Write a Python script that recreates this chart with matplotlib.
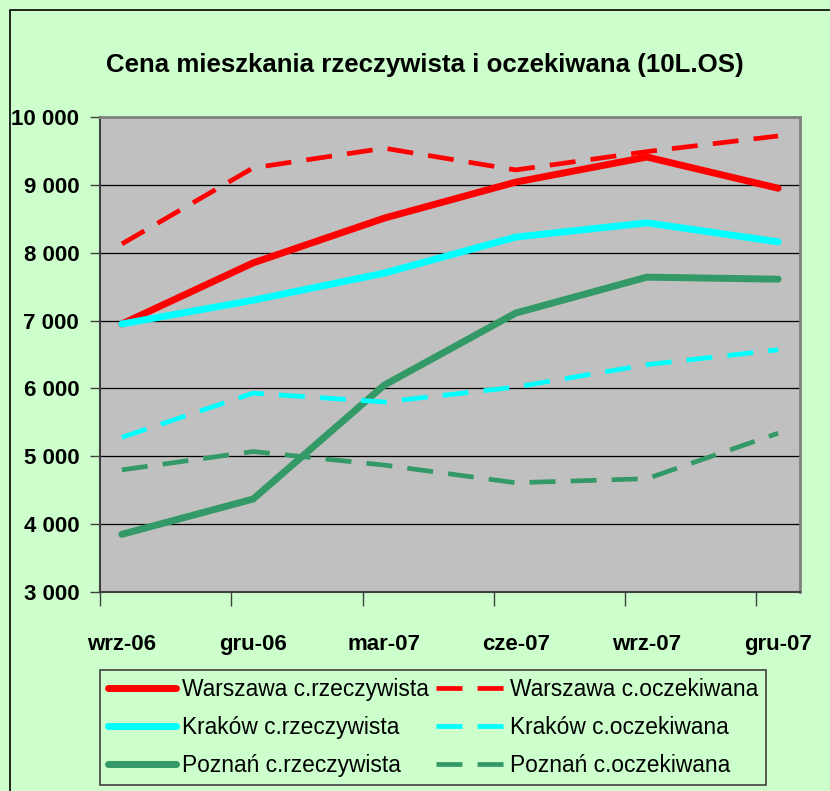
import matplotlib as mpl
import matplotlib.pyplot as plt
from matplotlib.patches import Rectangle
from matplotlib import font_manager

# month positions (0 = wrz-06), points sit mid-month
months = [0.5, 3.5, 6.5, 9.5, 12.5, 15.5]
labels = ['wrz-06', 'gru-06', 'mar-07', 'cze-07', 'wrz-07', 'gru-07']

waw_real = [6950, 7850, 8510, 9040, 9410, 8950]
waw_exp = [8130, 9250, 9540, 9220, 9490, 9720]
krk_real = [6950, 7300, 7700, 8230, 8440, 8160]
krk_exp = [5280, 5930, 5800, 6020, 6350, 6570]
poz_real = [3850, 4370, 6050, 7110, 7640, 7610]
poz_exp = [4800, 5070, 4870, 4610, 4670, 5340]

names = [f.name for f in font_manager.fontManager.ttflist]
fam = 'Liberation Sans Narrow' if 'Liberation Sans Narrow' in names else 'Liberation Sans'
plt.rcParams['font.family'] = [fam, 'DejaVu Sans']

bg = '#CCFFCC'
red = '#FF0000'
cyan = '#00FFFF'
green = '#339966'

fig = plt.figure(figsize=(8.3, 7.91), dpi=100, facecolor=bg)
ax = fig.add_axes([100/830, 1-592/791, 700/830, 475/791])
ax.set_facecolor('#C0C0C0')

# outer chart frame
fig.patches.append(Rectangle((10/830, -0.05), 1.0, 1-10/791+0.05, transform=fig.transFigure,
                             fill=False, edgecolor='black', linewidth=1.2))

h1, = ax.plot(months, waw_real, color=red, lw=5, solid_capstyle='round', solid_joinstyle='round')
h2, = ax.plot(months, krk_real, color=cyan, lw=5, solid_capstyle='round', solid_joinstyle='round')
h3, = ax.plot(months, poz_real, color=green, lw=5, solid_capstyle='round', solid_joinstyle='round')
h4, = ax.plot(months, waw_exp, color=red, lw=3.4, dashes=(5.5, 3.2))
h5, = ax.plot(months, krk_exp, color=cyan, lw=3.4, dashes=(5.5, 3.2))
h6, = ax.plot(months, poz_exp, color=green, lw=3.4, dashes=(5.5, 3.2))

ax.set_xlim(0, 16)
ax.set_ylim(3000, 10000)
ax.set_yticks(range(3000, 10001, 1000))
ax.set_yticklabels([f'{v:,}'.replace(',', ' ') for v in range(3000, 10001, 1000)],
                   fontsize=16, fontweight='bold')
ax.yaxis.grid(True, color='black', lw=0.9)
ax.set_axisbelow(True)

ax.set_xticks([0, 3, 6, 9, 12, 15])
ax.set_xticklabels([])
ax.set_xticks(months, minor=True)
ax.set_xticklabels(labels, minor=True, fontsize=16, fontweight='bold')
ax.tick_params(axis='x', which='major', length=10, width=1, color='#404040')
ax.tick_params(axis='x', which='minor', length=0, pad=30)
ax.tick_params(axis='y', length=7, width=1, color='#404040', pad=8)

for s in ['top', 'right']:
    ax.spines[s].set_color('#808080')
    ax.spines[s].set_linewidth(2)
for s in ['left', 'bottom']:
    ax.spines[s].set_color('#404040')
    ax.spines[s].set_linewidth(1.5)

fig.text(425/830, 1-65/791, 'Cena mieszkania rzeczywista i oczekiwana (10L.OS)',
         ha='center', va='center', fontsize=18.6, fontweight='bold')

leg = fig.legend([h1, h2, h3, h4, h5, h6],
                 ['Warszawa c.rzeczywista', 'Kraków c.rzeczywista', 'Poznań c.rzeczywista',
                  'Warszawa c.oczekiwana', 'Kraków c.oczekiwana', 'Poznań c.oczekiwana'],
                 ncol=2, loc='upper left', bbox_to_anchor=(100/830, 1-670/791),
                 fontsize=16.4, frameon=True, fancybox=False, facecolor=bg, edgecolor='#404040',
                 handlelength=3.0, handletextpad=0.25, columnspacing=0.3,
                 labelspacing=0.66, borderpad=0.35, borderaxespad=0)
leg.get_frame().set_linewidth(1.2)
leg.get_frame().set_alpha(None)

fig.savefig('out.png', dpi=100, facecolor=bg)
